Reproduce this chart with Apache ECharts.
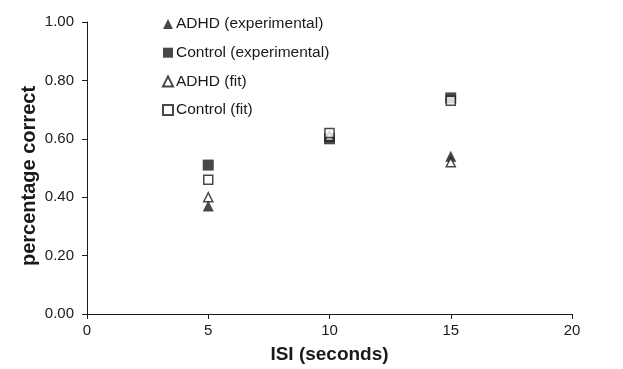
<!DOCTYPE html>
<html>
<head>
<meta charset="utf-8">
<script src="https://cdn.jsdelivr.net/npm/echarts@6/dist/echarts.min.js"></script>
<style>
  html, body { margin: 0; padding: 0; background: #fff; }
  #chart-container { width: 623px; height: 369px; }
</style>
</head>
<body>
<div id="chart-container"></div>
<script>
var dom = document.getElementById("chart-container");
var myChart = echarts.init(dom, null, { renderer: "canvas" });

var isi = [5, 10, 15];
var adhdExp = [0.37, 0.61, 0.54];
var controlExp = [0.51, 0.60, 0.74];
var adhdFit = [0.40, 0.61, 0.52];
var controlFit = [0.46, 0.62, 0.73];

function pairs(ys) {
  return isi.map(function (x, i) { return [x, ys[i]]; });
}

var font = "Liberation Sans, Arial, sans-serif";
var ink = "#1a1a1a";

function series(name, ys, symbol, open) {
  return {
    name: name,
    type: "scatter",
    symbol: symbol,
    symbolSize: open ? 9 : 11,
    itemStyle: open
      ? { color: "#fff", borderColor: ink, borderWidth: 1.5 }
      : { color: ink },
    data: pairs(ys),
  };
}

var option = {
  animation: false,
  backgroundColor: "#fff",
  grid: { left: 87, right: 51, top: 22, bottom: 55, outerBoundsMode: "none" },
  legend: {
    orient: "vertical",
    left: 157,
    top: 11,
    itemGap: 12.7,
    itemWidth: 10,
    itemHeight: 10,
    textStyle: { fontFamily: font, fontSize: 15.5, color: ink, padding: [0, 0, 0, -2] },
    data: ["ADHD (experimental)", "Control (experimental)", "ADHD (fit)", "Control (fit)"],
  },
  xAxis: {
    type: "value",
    min: 0,
    max: 20,
    interval: 5,
    name: "ISI (seconds)",
    nameLocation: "middle",
    nameGap: 31,
    nameTextStyle: { fontFamily: font, fontSize: 19, fontWeight: "bold", color: ink },
    axisLine: { lineStyle: { color: ink, width: 1 } },
    axisTick: { show: true, length: 5, lineStyle: { color: ink } },
    axisLabel: { fontFamily: font, fontSize: 15, color: ink, margin: 9 },
    splitLine: { show: false },
  },
  yAxis: {
    type: "value",
    min: 0,
    max: 1,
    interval: 0.2,
    name: "percentage correct",
    nameLocation: "middle",
    nameGap: 48,
    nameMoveOverlap: false,
    nameTextStyle: {
      fontFamily: font, fontSize: 20, fontWeight: "bold", color: ink,
      padding: [0, 16, 0, 0],
    },
    axisLine: { show: true, lineStyle: { color: ink, width: 1 } },
    axisTick: { show: true, length: 5, lineStyle: { color: ink } },
    axisLabel: {
      fontFamily: font, fontSize: 15, color: ink, margin: 13,
      formatter: function (v) { return v.toFixed(2); },
    },
    splitLine: { show: false },
  },
  series: [
    series("ADHD (experimental)", adhdExp, "triangle", false),
    series("Control (experimental)", controlExp, "rect", false),
    series("ADHD (fit)", adhdFit, "triangle", true),
    series("Control (fit)", controlFit, "rect", true),
  ],
};

myChart.setOption(option);
</script>
</body>
</html>
